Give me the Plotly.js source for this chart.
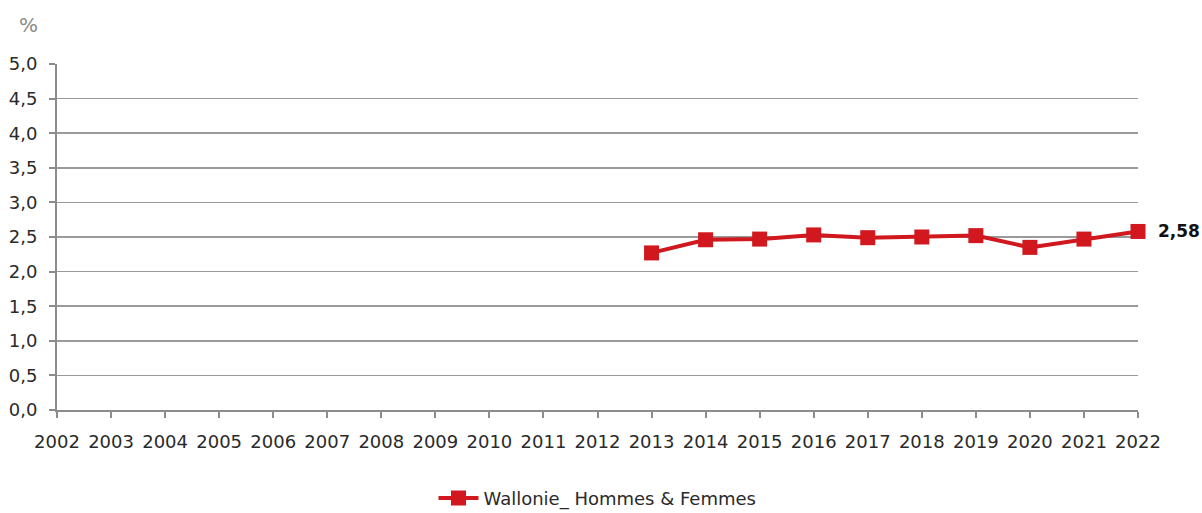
<!DOCTYPE html>
<html>
<head>
<meta charset="utf-8">
<script src="https://cdn.plot.ly/plotly-3.0.1.min.js"></script>
<style>html,body{margin:0;padding:0;background:#fff;}#chart{width:1202px;height:513px;}</style>
</head>
<body>
<div id="chart"></div>
<script>
const years = [2002,2003,2004,2005,2006,2007,2008,2009,2010,2011,2012,2013,2014,2015,2016,2017,2018,2019,2020,2021,2022];
const dataYears = [2013,2014,2015,2016,2017,2018,2019,2020,2021,2022];
const wallonie = [2.27,2.46,2.47,2.53,2.49,2.50,2.52,2.35,2.47,2.58];
const seriesName = "Wallonie_ Hommes & Femmes";
const yTicks = [0,0.5,1,1.5,2,2.5,3,3.5,4,4.5,5];
const yTickLabels = yTicks.map(v => v.toFixed(1).replace('.', ','));
const lastLabel = wallonie[wallonie.length-1].toFixed(2).replace('.', ',');

const font = "DejaVu Sans, sans-serif";
const red = "#D0181E";
const txt = "#2a2a2a";

const trace = {
  x: dataYears, y: wallonie, name: seriesName, type: 'scatter', mode: 'lines+markers',
  line: {color: red, width: 4},
  marker: {symbol: 'square', size: 15, color: red},
  cliponaxis: false
};

const layout = {
  width: 1202, height: 513,
  margin: {l: 57, r: 64, t: 64, b: 103, autoexpand: false},
  paper_bgcolor: '#fff', plot_bgcolor: '#fff',
  font: {family: font, size: 18, color: txt},
  showlegend: true,
  legend: {orientation: 'h', x: 0.5, xanchor: 'center', y: -0.255, yanchor: 'middle',
           font: {family: font, size: 18, color: txt}, itemwidth: 40},
  xaxis: {
    range: [2002, 2022], tickmode: 'array', tickvals: years, ticktext: years.map(String),
    showgrid: false, zeroline: false, showline: true, linecolor: '#8c8c8c', linewidth: 2,
    ticks: 'outside', ticklen: 6, tickcolor: '#8c8c8c', tickwidth: 2, ticklabelstandoff: 8,
    tickfont: {family: font, size: 18, color: txt}, fixedrange: true
  },
  yaxis: {
    range: [0, 5], tickmode: 'array', tickvals: yTicks, ticktext: yTickLabels,
    showgrid: true, gridcolor: '#9a9a9a', gridwidth: 1.5, zeroline: false,
    showline: true, linecolor: '#8c8c8c', linewidth: 2,
    ticks: 'outside', ticklen: 6, tickcolor: '#8c8c8c', tickwidth: 2, ticklabelstandoff: 8,
    tickfont: {family: font, size: 18, color: txt}, fixedrange: true
  },
  annotations: [
    {xref: 'paper', yref: 'paper', x: -0.026, y: 1.113, xanchor: 'center', yanchor: 'middle',
     text: '%', showarrow: false, font: {family: font, size: 20, color: '#8a8a8a'}},
    {x: dataYears[dataYears.length-1], y: wallonie[wallonie.length-1], xref: 'x', yref: 'y',
     text: '<b>' + lastLabel + '</b>', showarrow: false, xanchor: 'left', xshift: 18,
     font: {family: font, size: 17, color: '#111'}}
  ]
};

Plotly.newPlot('chart', [trace], layout, {displayModeBar: false, staticPlot: true});
</script>
</body>
</html>
